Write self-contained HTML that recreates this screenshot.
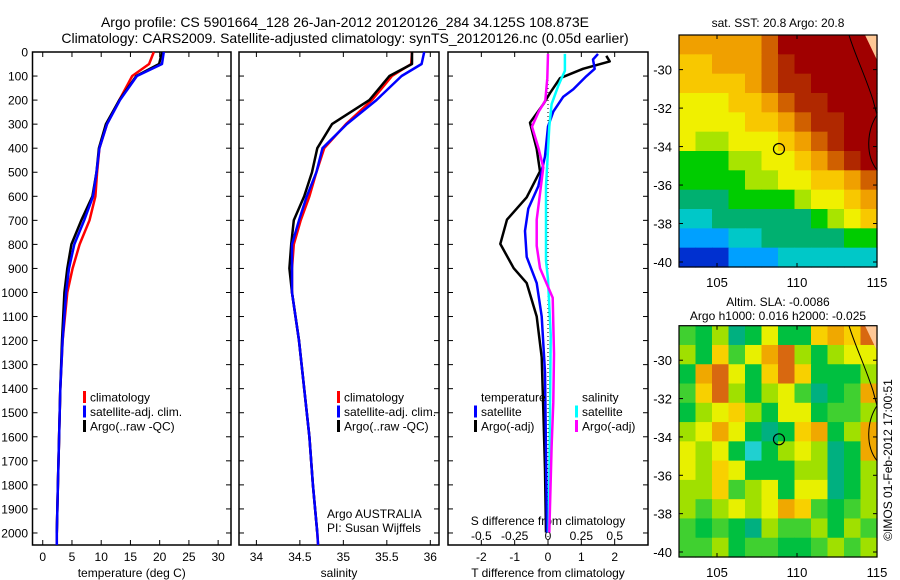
<!DOCTYPE html>
<html><head><meta charset="utf-8"><style>
html,body{margin:0;padding:0;background:#fff;}
svg{display:block;font-family:"Liberation Sans",sans-serif;}
</style></head><body>
<svg id="fig" width="900" height="580" viewBox="0 0 900 580" xmlns="http://www.w3.org/2000/svg">
<text x="345" y="27" font-size="14" text-anchor="middle">Argo profile: CS 5901664_128 26-Jan-2012 20120126_284 34.125S 108.873E</text>
<text x="345" y="43" font-size="14" text-anchor="middle">Climatology: CARS2009. Satellite-adjusted climatology: synTS_20120126.nc (0.05d earlier)</text>
<g id="plots"></g>
</svg>
<script>
// ---- depth grids ----
const depthT = [0,50,100,200,300,400,500,600,700,800,900,1000,1200,1400,1600,1800,2000,2050];
const tempClim = [19.0,18.2,15.3,13.1,11.0,9.7,9.3,9.0,8.0,6.3,5.1,4.2,3.4,3.0,2.8,2.6,2.4,2.4];
const tempSat  = [20.7,20.4,16.1,13.2,11.0,9.7,9.2,8.6,7.1,5.4,4.5,4.0,3.4,3.0,2.8,2.6,2.4,2.4];
const tempArgo = [20.4,19.9,16.0,13.1,10.8,9.6,9.2,8.5,6.6,4.9,4.2,3.7,3.3,3.0,2.8,2.6,2.4];
const salClim = [35.79,35.78,35.56,35.33,35.03,34.78,34.69,34.61,34.51,34.43,34.41,34.41,34.49,34.55,34.61,34.65,34.70,34.71];
const salSat  = [35.93,35.90,35.67,35.38,35.04,34.76,34.69,34.58,34.49,34.41,34.41,34.41,34.49,34.55,34.61,34.65,34.70,34.71];
const salArgo = [35.79,35.79,35.53,35.30,34.87,34.70,34.64,34.55,34.43,34.40,34.38,34.41,34.49,34.55,34.61,34.65,34.70];
// ---- difference profiles ----
const dBlk = [16,39,70,109,171,217,294,403,496,604,697,798,899,961,1100,1270,1487,1735,1998];
const tDiffArgo = [1.75,1.85,1.05,0.36,0.06,-0.14,-0.54,-0.34,-0.24,-0.64,-1.23,-1.43,-1.03,-0.64,-0.34,-0.19,-0.14,-0.09,-0.06];
const dBlu = [8,31,70,101,155,186,248,310,434,558,651,744,852,961,1100,1332,1998];
const tDiffSat = [1.5,1.35,1.4,1.15,0.76,0.46,0.16,0.0,-0.09,-0.29,-0.59,-0.69,-0.64,-0.34,-0.19,-0.09,-0.03];
const dCyn = [8,78,140,217,310,558,713,868,945,1177,1487,1998];
const sDiffSat = [0.127,0.127,0.077,0.027,0.01,-0.015,-0.015,-0.015,0.0,0.02,0.015,0.005];
const dMag = [8,109,202,248,310,403,480,589,697,806,899,1022,1255,1456,1642,1998];
const sDiffArgo = [0.0,-0.005,-0.02,-0.07,-0.12,-0.07,-0.035,-0.06,-0.085,-0.085,-0.06,0.035,0.045,0.04,0.027,0.01];
// ---- ticks ----
const depthTicks = [0,100,200,300,400,500,600,700,800,900,1000,1100,1200,1300,1400,1500,1600,1700,1800,1900,2000];
const tempTicks = [0,5,10,15,20,25,30];
const salTicks = [34,34.5,35,35.5,36];
const tDiffTicks = [-2,-1,0,1,2];
const sDiffTicks = [-0.5,-0.25,0,0.25,0.5];
const sDiffLabels = ["-0.5","-0.25","0","0.25","0.5"];
// ---- maps (rows north->south, cols west->east) ----
const sstGrid = [
[9,9,9,9,9,10,12,12,12,12,12,12],
[8,8,9,9,9,10,11,12,12,12,12,12],
[8,8,8,8,9,10,11,11,12,12,12,12],
[7,7,7,8,8,9,10,11,11,12,12,12],
[7,7,7,7,8,8,9,10,11,11,12,12],
[7,6,6,7,7,7,8,9,10,11,12,12],
[5,5,5,6,6,7,7,8,9,10,11,12],
[5,5,5,5,6,6,7,7,8,8,9,10],
[4,4,4,5,5,5,5,6,7,7,8,9],
[3,3,4,4,4,4,4,4,5,6,7,8],
[2,2,2,3,3,4,4,4,4,4,5,5],
[1,1,1,2,2,2,3,3,3,3,3,3]];
const slaGrid = [
[3,2,4,1,2,5,2,2,6,7,6,8],
[4,2,6,3,5,7,8,4,2,4,5,5],
[2,7,8,5,2,6,8,6,2,2,2,4],
[3,6,8,4,2,4,5,3,1,2,3,7],
[2,4,5,6,4,2,5,5,2,3,3,4],
[4,5,7,5,2,1,2,6,7,2,4,7],
[5,4,5,2,0,2,4,5,4,1,2,7],
[5,4,6,5,2,2,2,4,4,1,2,4],
[4,4,6,3,4,5,2,5,5,1,2,4],
[4,3,4,5,4,5,7,6,3,2,3,4],
[3,2,3,2,1,4,3,3,4,2,4,3],
[3,3,4,2,3,3,2,2,3,4,3,4]];
const lonTicks = [105,110,115];
const latTicks = [-30,-32,-34,-36,-38,-40];
const argoLon = 108.873, argoLat = -34.125;

const sstColors = ["#00008c","#0030d0","#00a0ff","#00c8c8","#00b070","#00cc00","#a8e400","#f0f000","#f8c800","#f0a000","#d06000","#b02800","#a00000"];
const slaColors = ["#20d0d0","#00b080","#00c040","#40d030","#a0e000","#e8f000","#f8d000","#f0a800","#d86810"];

const NS="http://www.w3.org/2000/svg";
const root=document.getElementById('plots');
function mk(tag,attrs,parent){const e=document.createElementNS(NS,tag);for(const k in attrs)e.setAttribute(k,attrs[k]);(parent||root).appendChild(e);return e;}
function txt(x,y,s,anchor,size,parent){const t=mk('text',{x:x,y:y,'font-size':size||12,'text-anchor':anchor||'middle'},parent);t.textContent=s;return t;}

const pTop=52, pBot=545, dmax=2050;
const yD=d=>pTop+d*(pBot-pTop)/dmax;

function panel(name,x0,x1,xmin,xmax,ticks,labels,title){
  const g=mk('g',{});
  
  
  const xs=v=>x0+(v-xmin)*(x1-x0)/(xmax-xmin);
  mk('rect',{x:x0,y:pTop,width:x1-x0,height:pBot-pTop,fill:'none',stroke:'#000','stroke-width':1.5},g);
  depthTicks.forEach(d=>{mk('line',{x1:x0,x2:x0+5,y1:yD(d),y2:yD(d),stroke:'#000'},g);mk('line',{x1:x1,x2:x1-5,y1:yD(d),y2:yD(d),stroke:'#000'},g);});
  ticks.forEach((v,i)=>{mk('line',{x1:xs(v),x2:xs(v),y1:pTop,y2:pTop+5,stroke:'#000'},g);mk('line',{x1:xs(v),x2:xs(v),y1:pBot,y2:pBot-5,stroke:'#000'},g);
    const t=txt(xs(v),561,labels[i],'middle',12,g);
    
    });
  const tt=txt((x0+x1)/2,577,title,'middle',12,g);
  
  
  return {g,xs};
}
function line(p,vals,depths,color,name,w){
  const pts=vals.map((v,i)=>p.xs(v).toFixed(1)+','+yD(depths[i]).toFixed(1)).join(' ');
  const l=mk('polyline',{points:pts,fill:'none',stroke:color,'stroke-width':w||2.5,'stroke-linejoin':'round'},p.g);
  
  
}
function legend(g,x,y,items){
  items.forEach((it,i)=>{
    const yy=y+i*14.5;
    if(it[1]) mk('rect',{x:x,y:yy-6,width:3,height:12,fill:it[1]},g);
    const t=txt(x+7,yy+4.5,it[0],'start',12,g);
    
    
  });
}
depthTicks.forEach(d=>{const t=txt(28,yD(d)+4.5,String(d),'end',12);
  
  });

const p1=panel('temperature-panel',32.5,231,-1.75,32.2,tempTicks,tempTicks.map(String),'temperature (deg C)');
line(p1,tempClim,depthT,'#ff0000','climatology-temp-line');
line(p1,tempArgo,depthT,'#000000','argo-temp-line');
line(p1,tempSat,depthT,'#0000ff','satellite-temp-line');
legend(p1.g,83,397,[['climatology','#ff0000'],['satellite-adj. clim.','#0000ff'],['Argo(..raw -QC)','#000']]);

const p2=panel('salinity-panel',239,439,33.8,36.1,salTicks,salTicks.map(String),'salinity');
line(p2,salClim,depthT,'#ff0000','climatology-sal-line');
line(p2,salArgo,depthT,'#000000','argo-sal-line');
line(p2,salSat,depthT,'#0000ff','satellite-sal-line');
legend(p2.g,337,397,[['climatology','#ff0000'],['satellite-adj. clim.','#0000ff'],['Argo(..raw -QC)','#000']]);
const cr1=txt(327,518,'Argo AUSTRALIA','start',12,p2.g);


const cr2=txt(327,532,'PI: Susan Wijffels','start',12,p2.g);



const p3=panel('difference-panel',448,648,-3.0,3.0,tDiffTicks,tDiffTicks.map(String),'T difference from climatology');
const sxs=v=>p3.xs(v*4);
mk('line',{x1:p3.xs(0),x2:p3.xs(0),y1:pTop,y2:pBot,stroke:'#000','stroke-dasharray':'1,3'},p3.g);
sDiffTicks.forEach((v,i)=>{const t=txt(sxs(v),540,sDiffLabels[i],'middle',12,p3.g);
  
  });
const sat=txt(548,525,'S difference from climatology','middle',12,p3.g);


line(p3,tDiffArgo,dBlk,'#000','argo-tdiff-line');
line(p3,tDiffSat,dBlu,'#0000ff','satellite-tdiff-line');
line({g:p3.g,xs:sxs},sDiffSat,dCyn,'#00ffff','satellite-sdiff-line');
line({g:p3.g,xs:sxs},sDiffArgo,dMag,'#ff00ff','argo-sdiff-line');
legend(p3.g,474,397,[['temperature',null],['satellite','#0000ff'],['Argo(-adj)','#000']]);
legend(p3.g,575,397,[['salinity',null],['satellite','#00ffff'],['Argo(-adj)','#ff00ff']]);

function map(name,grid,colors,y0,y1,latN,latS){
  const g=mk('g',{});
  
  
  const x0=679,x1=877,lonL=102.625,lonR=115;
  const xs=v=>x0+(v-lonL)*(x1-x0)/(lonR-lonL);
  const ys=v=>y0+(latN-v)*(y1-y0)/(latN-latS);
  const nr=grid.length,nc=grid[0].length;
  const cw=(x1-x0)/nc,ch=(y1-y0)/nr;
  grid.forEach((row,r)=>row.forEach((v,c)=>{
    const cell=mk('rect',{x:(x0+c*cw).toFixed(2),y:(y0+r*ch).toFixed(2),width:(cw+0.6).toFixed(2),height:(ch+0.6).toFixed(2),fill:colors[v]},g);
    
    
  }));
  mk('path',{d:`M${x1-12},${y0} L${x1},${y0} L${x1},${y0+25} Z`,fill:'#ffc896'},g);
  mk('path',{d:`M${x1-28},${y0} C${x1-22},${y0+20} ${x1-12},${y0+40} ${x1-4},${y0+65} L${x1},${y0+80} C${x1-10},${y0+95} ${x1-12},${y0+120} ${x1},${y0+135}`,fill:'none',stroke:'#000','stroke-width':1},g);
  mk('rect',{x:x0,y:y0,width:x1-x0,height:y1-y0,fill:'none',stroke:'#000','stroke-width':1.2},g);
  lonTicks.forEach(v=>{mk('line',{x1:xs(v),x2:xs(v),y1:y1,y2:y1-4,stroke:'#000'},g);mk('line',{x1:xs(v),x2:xs(v),y1:y0,y2:y0+4,stroke:'#000'},g);
    const t=txt(xs(v),y1+20,String(v),'middle',13,g);
    
    });
  latTicks.forEach(v=>{mk('line',{x1:x0,x2:x0+4,y1:ys(v),y2:ys(v),stroke:'#000'},g);mk('line',{x1:x1,x2:x1-4,y1:ys(v),y2:ys(v),stroke:'#000'},g);
    const t=txt(672,ys(v)+5,String(v),'end',13,g);
    
    });
  const c=mk('circle',{cx:xs(argoLon),cy:ys(argoLat),r:5.5,fill:'none',stroke:'#000','stroke-width':1.2},g);
  
  
}
map('sst-map',sstGrid,sstColors,35,267,-28.2,-40.26);
map('sla-map',slaGrid,slaColors,325.7,557,-28.2,-40.26);
const m1=txt(778,27,'sat. SST: 20.8 Argo: 20.8','middle',12);


const m2=txt(778,306,'Altim. SLA: -0.0086','middle',12);


const m3=txt(778,320,'Argo h1000: 0.016 h2000: -0.025','middle',12);


const cr=txt(0,0,'©IMOS 01-Feb-2012 17:00:51','middle',12);
cr.setAttribute('transform','translate(892,460) rotate(-90)');


</script>
</body></html>
